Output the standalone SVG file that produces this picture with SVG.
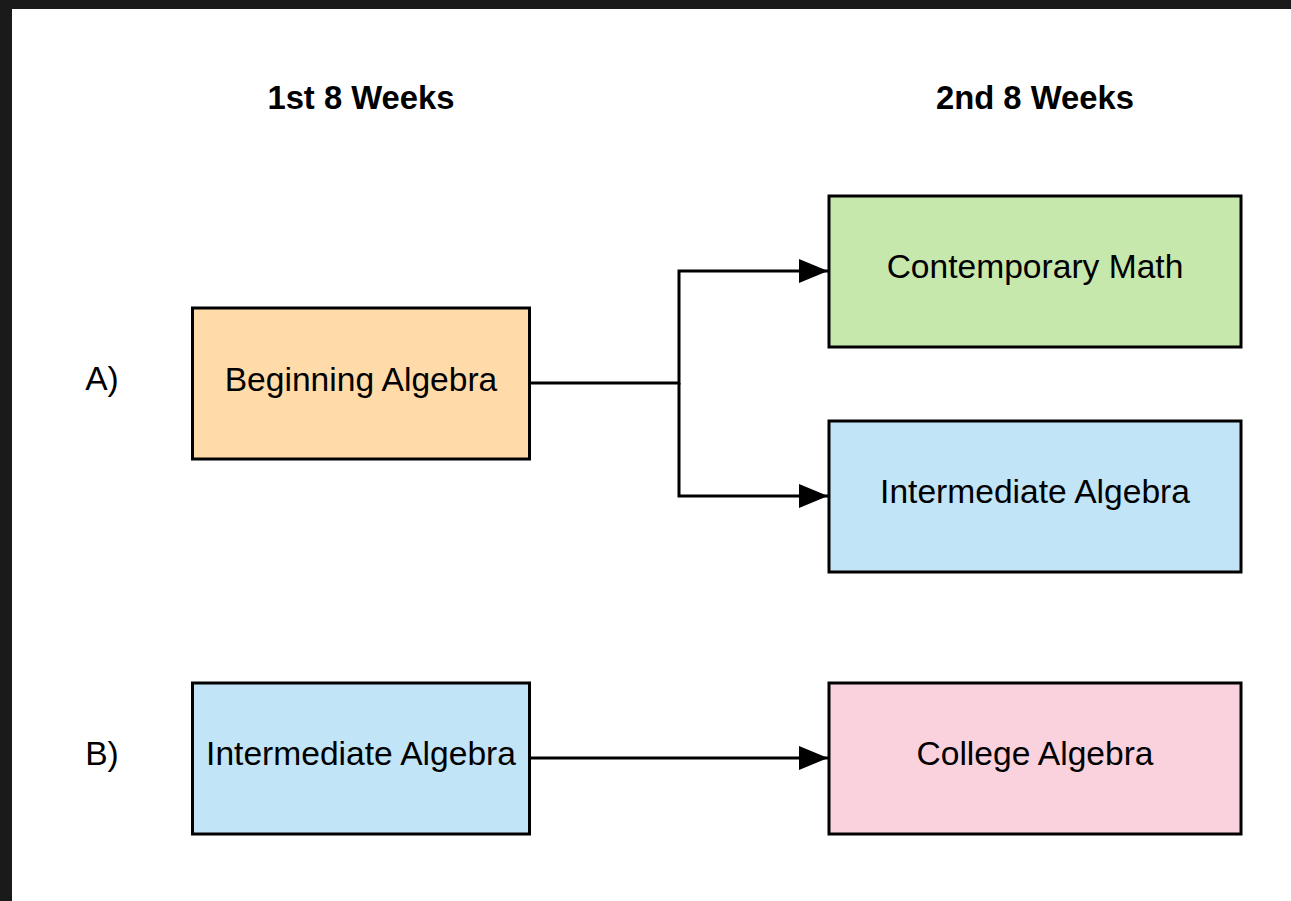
<svg xmlns="http://www.w3.org/2000/svg" width="1291" height="901" viewBox="0 0 1291 901">
<style>
.box{stroke:#000;stroke-width:3}
.lbl{font-family:"Liberation Sans",Arial,sans-serif;font-size:33.6px;fill:#000;text-anchor:middle}
.hdr{font-family:"Liberation Sans",Arial,sans-serif;font-size:32.8px;font-weight:bold;fill:#000;text-anchor:middle}
.conn{fill:none;stroke:#000;stroke-width:3}
</style>
<defs>
<marker id="arr" markerUnits="userSpaceOnUse" markerWidth="31" markerHeight="25" refX="29" refY="12.5" orient="auto">
<path d="M0,0.5 L29,12.5 L0,24.5 Z" fill="#000"/>
</marker>
</defs>
<rect width="1291" height="901" fill="#1a1a1a"/>
<rect x="12" y="9" width="1279" height="892" fill="#fff"/>
<g id="headers">
<text class="hdr" x="361" y="109">1st 8 Weeks</text>
<text class="hdr" x="1035" y="109">2nd 8 Weeks</text>
</g>
<g id="rowlabels">
<text class="lbl" x="102" y="390">A)</text>
<text class="lbl" x="102" y="765">B)</text>
</g>
<g id="connectors">
<path class="conn" d="M530,383 H679 V271 H828" marker-end="url(#arr)"/>
<path class="conn" d="M679,383 V496 H828" marker-end="url(#arr)"/>
<path class="conn" d="M530,758 H828" marker-end="url(#arr)"/>
</g>
<g id="beginning-algebra">
<rect class="box" x="192.5" y="308" width="337" height="151" fill="#FFDBA9"/>
<text class="lbl" x="361" y="391">Beginning Algebra</text>
</g>
<g id="contemporary-math">
<rect class="box" x="829" y="196" width="412" height="151" fill="#C7E8AC"/>
<text class="lbl" x="1035" y="278">Contemporary Math</text>
</g>
<g id="intermediate-algebra-a">
<rect class="box" x="829" y="421" width="412" height="151" fill="#C1E4F7"/>
<text class="lbl" x="1035" y="503">Intermediate Algebra</text>
</g>
<g id="intermediate-algebra-b">
<rect class="box" x="192.5" y="683" width="337" height="151" fill="#C1E4F7"/>
<text class="lbl" x="361" y="765">Intermediate Algebra</text>
</g>
<g id="college-algebra">
<rect class="box" x="829" y="683" width="412" height="151" fill="#F9D2DE"/>
<text class="lbl" x="1035" y="765">College Algebra</text>
</g>
</svg>
